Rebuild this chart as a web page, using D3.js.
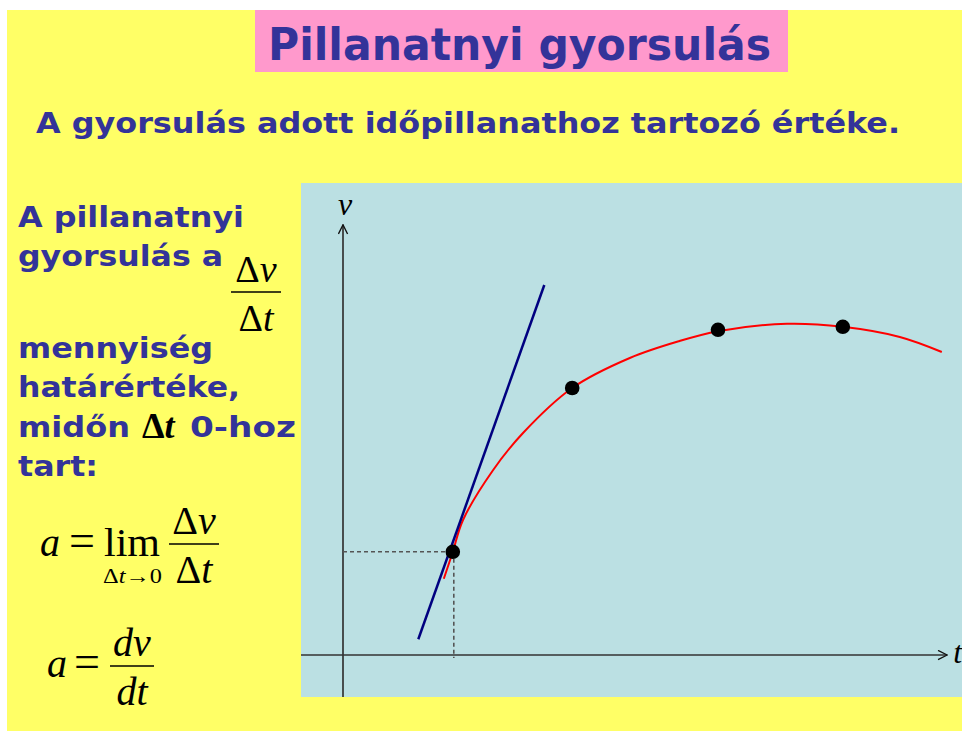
<!DOCTYPE html>
<html>
<head>
<meta charset="utf-8">
<script src="https://cdn.jsdelivr.net/npm/d3@7"></script>
<style>
  html, body { margin: 0; padding: 0; background: #ffffff; }
  svg { display: block; }
  .sans { font-family: "DejaVu Sans", Verdana, sans-serif; font-weight: bold; fill: #333399; }
  .math { font-family: "Liberation Serif", "Times New Roman", serif; fill: #000000; }
</style>
</head>
<body>
<svg id="slide" width="962" height="731"></svg>
<script>
// v(t) curve samples (t in arbitrary time units, v in arbitrary speed units)
const curveT = [1.68, 1.83, 2.00, 2.50, 3.00, 3.82, 4.78, 5.60, 6.27, 7.40, 8.33, 9.28, 9.98];
const curveV = [1.27, 1.72, 2.25, 3.08, 3.70, 4.45, 4.95, 5.23, 5.40, 5.52, 5.47, 5.30, 5.05];

// marked instants on the curve
const pointT = [1.83, 3.82, 6.25, 8.33];
const pointV = [1.72, 4.45, 5.42, 5.47];

// tangent line at the first marked instant
const tangentT = [1.255, 3.355];
const tangentV = [0.262, 6.167];

// axis extents (data units)
const tAxis = [-0.70, 10.07];
const vAxis = [-0.70, 7.17];

const titleText = "Pillanatnyi gyorsulás";
const subtitleText = "A gyorsulás adott időpillanathoz tartozó értéke.";
const bodyLines = ["A pillanatnyi", "gyorsulás a", "mennyiség", "határértéke,", "midőn", "0-hoz", "tart:"];

const svg = d3.select("#slide");

// slide background
svg.append("rect").attr("x", 7).attr("y", 10).attr("width", 955).attr("height", 721).attr("fill", "#FFFF66");
svg.append("rect").attr("x", 255).attr("y", 10).attr("width", 533).attr("height", 62).attr("fill", "#FF99CC");

svg.append("text").attr("class", "sans").attr("x", 268).attr("y", 60)
  .attr("font-size", 44).attr("textLength", 503).attr("lengthAdjust", "spacingAndGlyphs")
  .text(titleText);

svg.append("text").attr("class", "sans").attr("x", 36).attr("y", 133)
  .attr("font-size", 29).attr("textLength", 864).attr("lengthAdjust", "spacingAndGlyphs")
  .text(subtitleText);

// left-hand explanation
const body = [
  {s: bodyLines[0], x: 18, y: 227, w: 226},
  {s: bodyLines[1], x: 18, y: 266, w: 205},
  {s: bodyLines[2], x: 18, y: 358, w: 195},
  {s: bodyLines[3], x: 18, y: 397, w: 222},
  {s: bodyLines[4], x: 18, y: 437, w: 112},
  {s: bodyLines[5], x: 190, y: 437, w: 106},
  {s: bodyLines[6], x: 18, y: 476, w: 80}
];
svg.selectAll("text.body").data(body).enter().append("text")
  .attr("class", "sans body").attr("font-size", 29)
  .attr("x", d => d.x).attr("y", d => d.y)
  .attr("textLength", d => d.w).attr("lengthAdjust", "spacingAndGlyphs")
  .text(d => d.s);

// inline Δt
const dt = svg.append("text").attr("class", "math").attr("x", 142).attr("y", 438)
  .attr("font-size", 36).attr("font-weight", "bold");
dt.append("tspan").text("Δ");
dt.append("tspan").attr("font-style", "italic").text("t");

// helper: fraction with serif math
function fraction(cx, barY, num, den, size, barW) {
  const g = svg.append("g");
  g.append("line").attr("x1", cx - barW / 2).attr("x2", cx + barW / 2)
    .attr("y1", barY).attr("y2", barY).attr("stroke", "#000").attr("stroke-width", 1.6);
  const n = g.append("text").attr("class", "math").attr("text-anchor", "middle")
    .attr("x", cx).attr("y", barY - 10).attr("font-size", size);
  num.forEach(p => n.append("tspan").attr("font-style", p.i ? "italic" : "normal").text(p.s));
  const d = g.append("text").attr("class", "math").attr("text-anchor", "middle")
    .attr("x", cx).attr("y", barY + 39).attr("font-size", size);
  den.forEach(p => d.append("tspan").attr("font-style", p.i ? "italic" : "normal").text(p.s));
}

const dv = [{s: "Δ"}, {s: "v", i: true}];
const dT = [{s: "Δ"}, {s: "t", i: true}];

fraction(256, 292, dv, dT, 38, 50);

// a = lim Δv/Δt
svg.append("text").attr("class", "math").attr("x", 40).attr("y", 556)
  .attr("font-size", 40).attr("font-style", "italic").text("a");
svg.append("text").attr("class", "math").attr("x", 69).attr("y", 556)
  .attr("font-size", 46).text("=");
svg.append("text").attr("class", "math").attr("x", 104).attr("y", 556)
  .attr("font-size", 40).attr("textLength", 56).attr("lengthAdjust", "spacingAndGlyphs").text("lim");
const sub = svg.append("text").attr("class", "math").attr("x", 103).attr("y", 583)
  .attr("font-size", 20).attr("textLength", 59).attr("lengthAdjust", "spacingAndGlyphs");
sub.append("tspan").text("Δ");
sub.append("tspan").attr("font-style", "italic").text("t");
sub.append("tspan").text("→0");
fraction(194, 544, dv, dT, 40, 50);

// a = dv/dt
svg.append("text").attr("class", "math").attr("x", 47).attr("y", 677)
  .attr("font-size", 40).attr("font-style", "italic").text("a");
svg.append("text").attr("class", "math").attr("x", 74).attr("y", 677)
  .attr("font-size", 46).text("=");
fraction(132, 666, [{s: "dv", i: true}], [{s: "dt", i: true}], 40, 44);

// v–t diagram
svg.append("rect").attr("x", 301).attr("y", 183).attr("width", 661).attr("height", 514).attr("fill", "#BBE0E3");

const x = d3.scaleLinear().domain([0, 10]).range([343, 943]);
const y = d3.scaleLinear().domain([0, 8]).range([655, 175]);

const defs = svg.append("defs");
defs.append("marker").attr("id", "arrow").attr("viewBox", "0 0 12 12")
  .attr("refX", 11).attr("refY", 6).attr("markerWidth", 11).attr("markerHeight", 11)
  .attr("markerUnits", "userSpaceOnUse").attr("orient", "auto")
  .append("path").attr("d", "M1,1 L11,6 L1,11").attr("fill", "none")
  .attr("stroke", "#111").attr("stroke-width", 1.5);

svg.append("line").attr("x1", x(tAxis[0])).attr("x2", x(tAxis[1]))
  .attr("y1", y(0)).attr("y2", y(0))
  .attr("stroke", "#333").attr("stroke-width", 1.7).attr("marker-end", "url(#arrow)");
svg.append("line").attr("x1", x(0)).attr("x2", x(0))
  .attr("y1", y(vAxis[0])).attr("y2", y(vAxis[1]))
  .attr("stroke", "#333").attr("stroke-width", 1.7).attr("marker-end", "url(#arrow)");

svg.append("text").attr("class", "math").attr("x", x(0) + 2).attr("y", y(vAxis[1]) - 10)
  .attr("text-anchor", "middle").attr("font-size", 32).attr("font-style", "italic").text("v");
svg.append("text").attr("class", "math").attr("x", x(tAxis[1]) + 6).attr("y", y(0) + 8)
  .attr("font-size", 32).attr("font-style", "italic").text("t");

// dashed guides to the tangent point
svg.append("line").attr("x1", x(0)).attr("x2", x(pointT[0]))
  .attr("y1", y(pointV[0])).attr("y2", y(pointV[0]))
  .attr("stroke", "#555").attr("stroke-width", 1.6).attr("stroke-dasharray", "4,3");
svg.append("line").attr("x1", x(pointT[0]) + 1).attr("x2", x(pointT[0]) + 1)
  .attr("y1", y(pointV[0])).attr("y2", y(0) + 3)
  .attr("stroke", "#555").attr("stroke-width", 1.6).attr("stroke-dasharray", "4,3");

const curvePts = curveT.map((t, i) => [t, curveV[i]]);
svg.append("path").datum(curvePts)
  .attr("d", d3.line().x(d => x(d[0])).y(d => y(d[1])).curve(d3.curveCatmullRom.alpha(0.5)))
  .attr("fill", "none").attr("stroke", "#FF0000").attr("stroke-width", 2);

const tanPts = tangentT.map((t, i) => [t, tangentV[i]]);
svg.append("path").datum(tanPts)
  .attr("d", d3.line().x(d => x(d[0])).y(d => y(d[1])))
  .attr("fill", "none").attr("stroke", "#000080").attr("stroke-width", 2.5);

svg.selectAll("circle.pt").data(pointT.map((t, i) => [t, pointV[i]])).enter()
  .append("circle").attr("class", "pt")
  .attr("cx", d => x(d[0])).attr("cy", d => y(d[1])).attr("r", 7.3).attr("fill", "#000");
</script>
</body>
</html>
